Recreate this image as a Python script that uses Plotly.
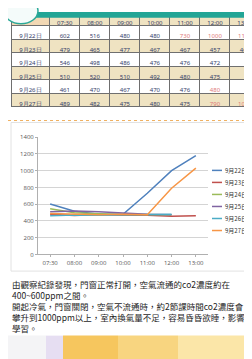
import plotly.graph_objects as go

W, H = 252, 359

times = ["07:30", "08:00", "09:00", "10:00", "11:00", "12:00", "13:00"]
dates = ["9月22日", "9月23日", "9月24日", "9月25日", "9月26日", "9月27日"]
s1 = [602, 516, 480, 480, 730, 1000, 1180]
s2 = [479, 465, 477, 467, 467, 457, 463]
s3 = [546, 498, 486, 476, 476, 472, None]
s4 = [510, 520, 510, 492, 480, 475, None]
s5 = [461, 470, 467, 470, 476, 480, None]
s6 = [489, 482, 475, 480, 475, 790, 1030]
series = [s1, s2, s3, s4, s5, s6]
colors = ["#4F81BD", "#C0504D", "#9BBB59", "#8064A2", "#4BACC6", "#F79646"]
highlight = [(0, 4), (0, 5), (0, 6), (4, 5), (5, 5), (5, 6)]

text_lines = [
    "由觀察紀錄發現，門窗正常打開，空氣流通的co2濃度約在",
    "400~600ppm之間。",
    "開起冷氣，門窗關閉，空氣不流通時，約2節課時間co2濃度會",
    "攀升到1000ppm以上，室內換氣量不足，容易昏昏欲睡，影響",
    "學習。",
]


def px(x):
    return x / W


def py(y):
    return (H - y) / H


fig = go.Figure()

# ---- table ----
row_fill = ["#ffffff" if i % 2 == 0 else "#efe3c2" for i in range(len(dates))]
cols = [dates]
font_cols = [["#34406a"] * len(dates)]
for j in range(len(times)):
    col = []
    fc = []
    for i, s in enumerate(series):
        v = s[j]
        col.append("" if v is None else str(v))
        fc.append("#e07a7a" if (i, j) in highlight else "#34406a")
    cols.append(col)
    font_cols.append(fc)

fig.add_trace(go.Table(
    domain=dict(x=[px(3), 1.0], y=[py(108), 1.0]),
    columnwidth=[40] + [31] * len(times),
    header=dict(values=[""] + times, height=13.5,
                fill_color=["#f2d8b4"] + ["#efe3c2"] * len(times),
                line=dict(color="#6f6f6f", width=1),
                font=dict(size=6, color="#34406a", family="Noto Sans"),
                align="center"),
    cells=dict(values=cols, height=13.5,
               fill_color=[row_fill] * (len(times) + 1),
               line=dict(color="#6f6f6f", width=1),
               font=dict(size=6, color=font_cols, family="Noto Sans"),
               align="center"),
))

# ---- line chart ----
for name, s, c in zip(dates, series, colors):
    fig.add_trace(go.Scatter(x=times, y=s, name=name, mode="lines",
                             line=dict(color=c, width=1.5), showlegend=False))

shapes = [
    dict(type="rect", xref="paper", yref="paper", x0=px(3), x1=px(250), y0=py(265), y1=py(113),
         line=dict(color="#e2e2e2", width=1), fillcolor="rgba(0,0,0,0)", layer="below"),
    dict(type="line", xref="paper", yref="paper", x0=0, x1=1, y0=py(111), y1=py(111),
         line=dict(color="#f0b060", width=1, dash="dot")),
    dict(type="rect", xref="paper", yref="paper", x0=px(22), x1=px(236), y0=py(6), y1=1,
         line=dict(width=0), fillcolor="#22a596"),
    dict(type="circle", xref="paper", yref="paper", x0=px(-4), x1=px(30), y0=py(12), y1=py(-14),
         line=dict(color="#2aa898", width=1.5), fillcolor="#f4fbfa"),
    dict(type="rect", xref="paper", yref="paper", x0=px(244), x1=1, y0=py(8), y1=1,
         line=dict(width=0), fillcolor="#f7e2ea"),
    dict(type="rect", xref="paper", yref="paper", x0=0, x1=px(38), y0=0, y1=py(331),
         line=dict(width=0), fillcolor="#f4f4f6"),
    dict(type="rect", xref="paper", yref="paper", x0=px(38), x1=px(55), y0=0, y1=py(331),
         line=dict(width=0), fillcolor="#e6def2"),
    dict(type="rect", xref="paper", yref="paper", x0=px(55), x1=px(110), y0=0, y1=py(331),
         line=dict(width=0), fillcolor="#f6c65e"),
    dict(type="rect", xref="paper", yref="paper", x0=px(110), x1=px(170), y0=0, y1=py(331),
         line=dict(width=0), fillcolor="#f8d580"),
    dict(type="rect", xref="paper", yref="paper", x0=px(170), x1=1, y0=0, y1=py(331),
         line=dict(width=0), fillcolor="#fbe6a8"),
]

annotations = []
# legend (line sample + label per series)
for k, (name, c) in enumerate(zip(dates, colors)):
    yy = py(162 + k * 12.3)
    shapes.append(dict(type="line", xref="paper", yref="paper", x0=px(204), x1=px(214),
                       y0=yy, y1=yy, line=dict(color=c, width=1.5)))
    annotations.append(dict(text=name, xref="paper", yref="paper", x=px(215), y=yy,
                            xanchor="left", yanchor="middle", showarrow=False,
                            font=dict(size=6, color="#333", family="Noto Sans CJK TC")))

annotations.append(dict(text="<br>".join(text_lines), xref="paper", yref="paper",
                        x=px(2), y=py(270), xanchor="left", yanchor="top", align="left",
                        showarrow=False,
                        font=dict(size=8.5, color="#1e1e1e", family="Noto Sans CJK TC")))

fig.update_layout(
    width=W, height=H,
    margin=dict(l=0, r=0, t=0, b=0),
    paper_bgcolor="white", plot_bgcolor="white",
    showlegend=False,
    xaxis=dict(domain=[px(30), px(200)], anchor="y", type="category", range=[-0.5, 6.5],
               showgrid=False, showline=True, linecolor="#b0b0b0", ticks="outside",
               ticklen=2, tickcolor="#b0b0b0", tickfont=dict(size=6, color="#555")),
    yaxis=dict(domain=[py(248), py(128)], anchor="x", range=[0, 1400], dtick=200,
               showgrid=True, gridcolor="#d4d4d4", showline=True, linecolor="#b0b0b0",
               ticks="outside", ticklen=2, tickcolor="#b0b0b0", zeroline=False,
               tickfont=dict(size=6, color="#555")),
    shapes=shapes,
    annotations=annotations,
)

fig.write_html("out.html")
